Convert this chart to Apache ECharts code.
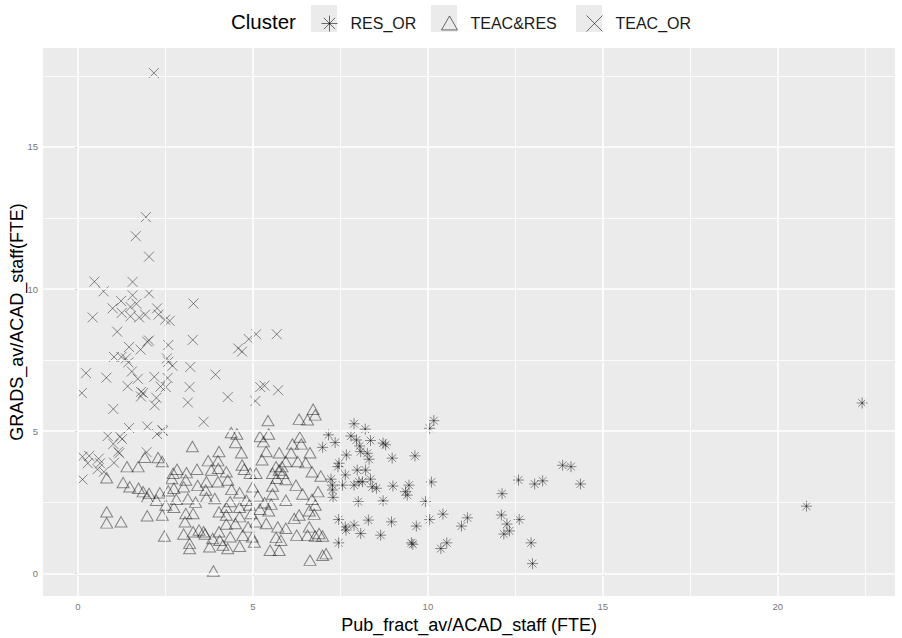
<!DOCTYPE html>
<html>
<head>
<meta charset="utf-8">
<script src="https://cdn.jsdelivr.net/npm/echarts@6/dist/echarts.min.js"></script>
<style>html,body{margin:0;padding:0;background:#fff;}#c{width:902px;height:638px;}</style>
</head>
<body>
<div id="c"></div>
<script>
// ---- data ----
const seriesNames = ['RES_OR', 'TEAC&RES', 'TEAC_OR'];
const xTicks = [0, 5, 10, 15, 20];
const yTicks = [0, 5, 10, 15];
const xMinor = [2.5, 7.5, 12.5, 17.5, 22.5];
const yMinor = [2.5, 7.5, 12.5, 17.5];

const resOr = [[7.89,5.26],[8.21,5.07],[7.16,4.87],[7.35,4.60],[6.99,4.43],[7.80,4.83],[7.96,4.69],[8.36,4.67],[8.72,4.58],[8.79,4.52],[8.05,4.48],[8.08,4.28],[8.27,4.22],[7.67,4.16],[8.32,4.01],[8.98,4.05],[9.63,4.13],[10.05,5.10],[7.46,3.87],[7.43,3.75],[7.98,3.63],[8.22,3.63],[7.64,3.46],[7.23,3.31],[7.27,3.10],[7.27,2.93],[7.56,3.10],[7.89,3.10],[8.03,3.22],[8.13,3.22],[8.36,3.31],[8.41,3.04],[8.53,2.99],[9.0,3.07],[9.46,3.10],[9.36,2.87],[9.41,2.75],[10.10,3.21],[7.29,2.67],[8.01,2.52],[8.72,2.55],[9.93,2.52],[7.45,1.89],[7.64,1.63],[7.66,1.52],[7.89,1.69],[8.08,1.40],[8.30,1.87],[8.96,1.81],[9.67,1.66],[10.05,1.89],[8.65,1.34],[7.45,1.07],[9.53,1.07],[9.57,1.02],[10.17,5.37],[10.43,2.08],[10.96,1.66],[11.13,1.95],[10.37,0.87],[10.54,1.07],[12.12,2.80],[12.10,2.05],[12.26,1.73],[12.17,1.38],[12.33,1.49],[12.61,1.89],[12.59,3.28],[13.05,3.14],[13.28,3.25],[13.85,3.80],[14.09,3.75],[14.36,3.14],[12.95,1.07],[12.99,0.34],[22.41,5.99],[20.82,2.36]];

const teacRes = [[4.38,4.95],[4.54,4.90],[4.50,4.60],[3.27,4.46],[4.03,4.28],[4.67,4.24],[1.91,4.08],[2.29,4.07],[2.41,3.93],[1.40,3.75],[1.72,3.75],[0.82,3.36],[3.72,3.96],[4.0,3.96],[2.83,3.66],[3.40,3.66],[3.81,3.63],[4.01,3.69],[4.24,3.57],[4.69,3.81],[4.75,3.66],[4.92,3.52],[5.09,3.52],[2.72,3.52],[3.10,3.54],[2.68,3.33],[3.08,3.28],[3.67,3.22],[4.0,3.22],[4.28,3.28],[1.29,3.19],[1.48,3.04],[1.73,2.99],[3.42,3.09],[3.02,3.04],[2.34,2.83],[2.58,2.90],[2.74,2.99],[1.86,2.87],[2.03,2.81],[3.65,2.93],[4.39,2.95],[4.62,2.83],[4.99,3.04],[1.98,2.67],[2.24,2.57],[2.81,2.60],[3.14,2.62],[3.36,2.50],[3.67,2.67],[3.91,2.63],[4.35,2.52],[2.51,2.40],[2.74,2.32],[4.24,2.32],[4.62,2.32],[4.90,2.40],[4.81,2.57],[0.82,2.16],[1.98,2.02],[2.41,2.05],[3.08,2.10],[3.29,2.10],[4.03,2.16],[4.24,2.05],[4.62,1.99],[4.95,2.10],[0.82,1.77],[1.23,1.81],[3.06,1.81],[4.24,1.73],[4.50,1.75],[4.86,1.63],[5.09,1.81],[3.46,1.52],[3.59,1.46],[3.63,1.38],[3.02,1.38],[3.29,1.46],[4.03,1.46],[2.47,1.31],[3.85,1.22],[4.05,1.16],[4.35,1.28],[4.71,1.34],[4.98,1.28],[3.19,1.05],[3.19,0.87],[3.76,0.93],[4.14,0.99],[4.28,0.87],[4.62,0.95],[5.04,1.10],[3.87,0.08],[5.43,5.37],[6.32,5.42],[6.56,5.40],[6.72,5.77],[6.78,5.57],[5.20,4.81],[5.45,4.90],[5.30,4.63],[6.34,4.79],[6.13,4.55],[6.38,4.55],[5.38,4.28],[5.75,4.24],[6.09,4.24],[6.63,4.24],[5.26,3.99],[5.94,3.93],[6.28,3.93],[6.51,3.89],[5.66,3.75],[5.83,3.75],[5.75,3.63],[6.69,3.57],[5.56,3.52],[5.85,3.52],[6.94,3.42],[5.68,3.34],[5.94,3.30],[6.23,3.10],[5.56,3.07],[6.86,2.87],[6.42,2.79],[5.14,2.72],[5.56,2.79],[5.94,2.57],[6.69,2.60],[6.78,2.40],[5.33,2.48],[5.52,2.43],[5.20,2.25],[5.45,2.20],[6.61,2.20],[6.75,2.08],[6.18,1.93],[6.32,2.05],[5.38,1.75],[5.71,1.63],[5.94,1.58],[6.61,1.63],[6.89,1.40],[6.99,1.31],[6.25,1.34],[6.56,1.34],[6.78,1.31],[5.66,1.26],[5.80,1.16],[5.49,0.81],[5.75,0.81],[6.63,0.46],[6.99,0.63],[7.09,0.69]];

const teacOr = [[2.17,17.6],[1.94,12.53],[1.65,11.86],[2.03,11.14],[0.47,10.26],[1.56,10.25],[0.73,9.92],[2.03,9.85],[1.56,9.78],[1.23,9.58],[1.67,9.48],[3.30,9.49],[0.99,9.32],[1.50,9.37],[2.26,9.32],[1.25,9.16],[1.50,9.04],[1.75,9.0],[1.92,9.1],[2.30,9.1],[2.49,8.92],[2.62,8.88],[0.42,9.0],[1.12,8.5],[1.98,8.15],[2.03,8.19],[2.58,8.03],[3.28,8.21],[1.46,7.96],[1.79,7.87],[4.88,8.24],[5.09,8.41],[5.68,8.41],[4.58,7.91],[4.69,7.8],[1.03,7.61],[1.24,7.61],[1.37,7.56],[1.44,7.42],[2.54,7.56],[2.58,7.44],[2.70,7.30],[0.23,7.04],[1.54,7.10],[3.21,7.26],[0.81,6.88],[1.71,6.84],[2.18,6.91],[2.56,6.87],[3.93,6.99],[1.42,6.58],[2.36,6.57],[2.51,6.55],[3.19,6.55],[5.21,6.55],[5.33,6.6],[5.72,6.44],[0.11,6.34],[1.80,6.38],[1.86,6.34],[1.80,6.22],[2.24,6.17],[4.28,6.20],[5.07,6.06],[2.19,5.91],[3.14,6.01],[1.01,5.78],[3.59,5.33],[1.46,5.11],[1.98,5.16],[2.41,5.04],[2.26,4.90],[2.43,5.0],[0.85,4.83],[1.20,4.81],[1.26,4.72],[1.01,4.55],[1.15,4.28],[1.18,4.22],[1.96,4.26],[0.13,4.10],[0.32,4.13],[0.59,4.03],[0.28,3.87],[0.63,3.87],[0.56,3.66],[0.74,3.57],[1.03,3.89],[0.13,3.30]];

// ---- styles ----
const FONT = '"Liberation Sans", Arial, sans-serif';
const PT = 'rgba(0,0,0,0.55)';
const SYM_AST = 'path://M5,0L5,10M0,5L10,5M1.46,1.46L8.54,8.54M8.54,1.46L1.46,8.54';
const SYM_X = 'path://M0,0L10,10M10,0L0,10';
const SYM_TRI = 'path://M5,0L10,8.66L0,8.66Z';

const chart = echarts.init(document.getElementById('c'), null, {renderer: 'svg'});

const gridLines = [];
xTicks.forEach(v => gridLines.push({xAxis: v, lineStyle: {width: 1.6}}));
yTicks.forEach(v => gridLines.push({yAxis: v, lineStyle: {width: 1.6}}));
xMinor.forEach(v => gridLines.push({xAxis: v, lineStyle: {width: 0.8}}));
yMinor.forEach(v => gridLines.push({yAxis: v, lineStyle: {width: 0.8}}));

function legendFor(name, icon, left, w, h) {
  return {
    data: [name], left: left, top: 10, itemWidth: w, itemHeight: h,
    icon: icon, selectedMode: false,
    itemStyle: {color: 'transparent', borderColor: 'rgba(0,0,0,0.7)', borderWidth: 1},
    textStyle: {fontFamily: FONT, fontSize: 16, color: '#1a1a1a', padding: [0, 0, 0, 8]}
  };
}

chart.setOption({
  animation: false,
  backgroundColor: '#ffffff',
  title: {text: 'Cluster', left: 226, top: 6, textStyle: {fontFamily: FONT, fontSize: 20.5, fontWeight: 'normal', color: '#000'}},
  graphic: [
    {type: 'rect', shape: {x: 311, y: 5, width: 26, height: 27}, style: {fill: '#ebebeb'}, silent: true},
    {type: 'rect', shape: {x: 431, y: 5, width: 26, height: 27}, style: {fill: '#ebebeb'}, silent: true},
    {type: 'rect', shape: {x: 576, y: 5, width: 26, height: 27}, style: {fill: '#ebebeb'}, silent: true}
  ],
  legend: [
    legendFor('RES_OR', SYM_AST, 316, 16, 16),
    legendFor('TEAC&RES', SYM_TRI, 436, 16, 14),
    legendFor('TEAC_OR', SYM_X, 581, 16, 16)
  ],
  grid: {left: 43, right: 7, top: 48, bottom: 42, show: true, backgroundColor: '#ebebeb', borderWidth: 0, containLabel: false, outerBoundsMode: 'none'},
  xAxis: {
    type: 'value', min: -1.0, max: 23.35,
    name: 'Pub_fract_av/ACAD_staff (FTE)', nameLocation: 'middle', nameGap: 18,
    nameTextStyle: {fontFamily: FONT, fontSize: 18, color: '#000'},
    axisLine: {show: false},
    axisTick: {show: true, length: 3, lineStyle: {color: '#555', width: 1}, customValues: xTicks},
    axisLabel: {fontFamily: FONT, fontSize: 9.5, color: '#777', margin: 5, customValues: xTicks},
    splitLine: {show: false}
  },
  yAxis: {
    type: 'value', min: -0.8, max: 18.48,
    name: 'GRADS_av/ACAD_staff(FTE)', nameLocation: 'middle', nameGap: 17, nameRotate: 90,
    nameMoveOverlap: false,
    nameTextStyle: {fontFamily: FONT, fontSize: 18, color: '#000'},
    axisLine: {show: false},
    axisTick: {show: true, length: 3, lineStyle: {color: '#555', width: 1}, customValues: yTicks},
    axisLabel: {fontFamily: FONT, fontSize: 9.5, color: '#777', margin: 5, customValues: yTicks},
    splitLine: {show: false}
  },
  series: [
    {
      type: 'scatter', name: '_grid', data: [], z: 1, silent: true,
      markLine: {silent: true, symbol: 'none', label: {show: false}, animation: false,
        lineStyle: {color: '#ffffff', type: 'solid'}, emphasis: {disabled: true}, data: gridLines}
    },
    {
      type: 'scatter', name: 'RES_OR', data: resOr, z: 3, symbol: SYM_AST, symbolSize: 11,
      itemStyle: {color: 'transparent', borderColor: PT, borderWidth: 1}, emphasis: {disabled: true}
    },
    {
      type: 'scatter', name: 'TEAC&RES', data: teacRes, z: 3, symbol: SYM_TRI, symbolSize: [12, 10.4],
      itemStyle: {color: 'transparent', borderColor: PT, borderWidth: 1}, emphasis: {disabled: true}
    },
    {
      type: 'scatter', name: 'TEAC_OR', data: teacOr, z: 3, symbol: SYM_X, symbolSize: 10,
      itemStyle: {color: 'transparent', borderColor: PT, borderWidth: 1}, emphasis: {disabled: true}
    }
  ]
});
</script>
</body>
</html>
